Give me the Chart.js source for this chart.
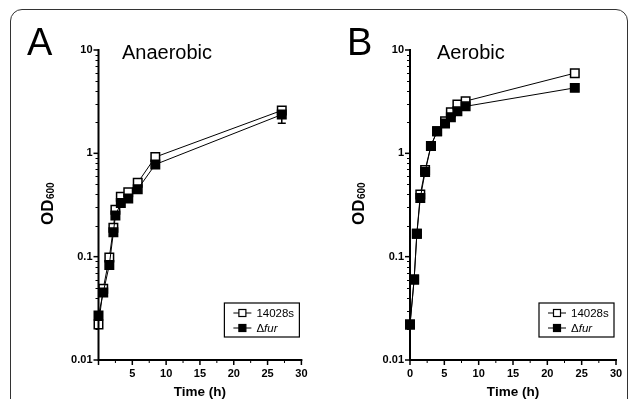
<!DOCTYPE html>
<html>
<head>
<meta charset="utf-8">
<script src="https://cdn.jsdelivr.net/npm/chart.js@4.4.0/dist/chart.umd.min.js"></script>
<style>
  body { margin: 0; width: 630px; height: 399px; overflow: hidden; background: #fff; position: relative; }
  #marco { position: absolute; left: 10px; top: 9px; width: 616px; height: 430px; border: 1.5px solid #333; border-radius: 12px; }
  canvas { position: absolute; top: 0; }
  #graficaA { left: 0; }
  #graficaB { left: 315px; }
</style>
</head>
<body>
<div id="marco"></div>
<canvas id="graficaA" width="315" height="399"></canvas>
<canvas id="graficaB" width="315" height="399"></canvas>
<script>
// datos (OD600 vs tiempo)
const tiempoA = [0, 0.7, 1.6, 2.2, 2.5, 3.3, 4.4, 5.8, 8.4, 27.1];
const wtA = [0.022, 0.049, 0.098, 0.19, 0.285, 0.38, 0.42, 0.52, 0.92, 2.6];
const furA = [0.027, 0.045, 0.083, 0.172, 0.25, 0.33, 0.365, 0.45, 0.78, 2.37];
const furErrA = [0, 0, 0, 0, 0, 0, 0, 0, 0, 0.41];

const tiempoB = [0, 0.6, 1.0, 1.5, 2.2, 3.05, 3.95, 5.1, 5.95, 6.9, 8.1, 24];
const wtB = [0.022, 0.06, 0.167, 0.4, 0.69, 1.18, 1.64, 2.05, 2.5, 2.97, 3.2, 5.97];
const furB = [0.022, 0.06, 0.167, 0.37, 0.66, 1.18, 1.64, 1.94, 2.24, 2.55, 2.85, 4.3];

const nombres = ['14028s', 'fur'];
const yTicks = [0.01, 0.1, 1, 10];
const yTickLabels = ['0.01', '0.1', '1', '10'];
const xTicksA = [5, 10, 15, 20, 25, 30];
const xTicksB = [0, 5, 10, 15, 20, 25, 30];

Chart.defaults.font.family = '"Liberation Sans", Arial, sans-serif';
Chart.defaults.color = '#000';

const FUENTE = '"Liberation Sans", Arial, sans-serif';

// dibuja ejes, marcas, letras, titulo, leyenda y barras de error
const adornos = {
    id: 'adornos',
    beforeDatasetsDraw(chart) {
        const p = chart.options.plugins.adornos;
        const ctx = chart.ctx;
        const x = chart.scales.x, y = chart.scales.y;
        ctx.save();
        ctx.strokeStyle = '#000';
        ctx.lineWidth = 1.5;
        p.err.forEach((e, i) => {
            if (!e) return;
            const px = x.getPixelForValue(p.t[i]);
            const y1 = y.getPixelForValue(p.fur[i] - e);
            const y2 = y.getPixelForValue(p.fur[i] + e);
            ctx.beginPath();
            ctx.moveTo(px, y1); ctx.lineTo(px, y2);
            ctx.moveTo(px - 4, y1); ctx.lineTo(px + 4, y1);
            ctx.moveTo(px - 4, y2); ctx.lineTo(px + 4, y2);
            ctx.stroke();
        });
        ctx.restore();
    },
    afterDraw(chart) {
        const p = chart.options.plugins.adornos;
        const ctx = chart.ctx;
        const ca = chart.chartArea;
        const x = chart.scales.x, y = chart.scales.y;
        ctx.save();
        ctx.strokeStyle = '#000';
        ctx.fillStyle = '#000';

        // marcas menores y mayores del eje y
        ctx.lineWidth = 1;
        [0.01, 0.1, 1].forEach(d => {
            for (let m = 2; m <= 9; m++) {
                const py = Math.round(y.getPixelForValue(d * m)) + 0.5;
                ctx.beginPath(); ctx.moveTo(ca.left, py); ctx.lineTo(ca.left - 3, py); ctx.stroke();
            }
        });
        ctx.lineWidth = 1.5;
        yTicks.forEach(v => {
            const py = y.getPixelForValue(v);
            ctx.beginPath(); ctx.moveTo(ca.left, py); ctx.lineTo(ca.left - 5, py); ctx.stroke();
        });
        // marcas del eje x
        for (let v = 0; v <= 30; v += 2.5) {
            const px = x.getPixelForValue(v);
            const largo = v % 5 === 0 ? 5 : 3;
            ctx.lineWidth = v % 5 === 0 ? 1.5 : 1;
            ctx.beginPath(); ctx.moveTo(px, ca.bottom); ctx.lineTo(px, ca.bottom + largo); ctx.stroke();
        }
        // lineas de los ejes
        ctx.lineWidth = 2;
        ctx.beginPath();
        ctx.moveTo(ca.left, ca.top - 1); ctx.lineTo(ca.left, ca.bottom + 1);
        ctx.moveTo(ca.left - 1, ca.bottom); ctx.lineTo(x.getPixelForValue(30) + 1, ca.bottom);
        ctx.stroke();

        // letra del panel y titulo
        ctx.textBaseline = 'alphabetic';
        ctx.textAlign = 'left';
        ctx.font = '38px ' + FUENTE;
        ctx.fillText(p.letra, p.letraX, 55);
        ctx.font = '20px ' + FUENTE;
        ctx.fillText(p.titulo, p.tituloX, 59);

        // OD600 girado
        ctx.save();
        ctx.translate(p.odX, 225);
        ctx.rotate(-Math.PI / 2);
        ctx.font = 'bold 17px ' + FUENTE;
        ctx.fillText('OD', 0, 0);
        const w = ctx.measureText('OD').width;
        ctx.font = 'bold 10px ' + FUENTE;
        ctx.fillText('600', w + 0.5, 1);
        ctx.restore();

        // leyenda
        const bw = 75, bh = 34;
        const bx = ca.right - 2 - bw, by = ca.bottom - 23 - bh;
        ctx.fillStyle = '#fff';
        ctx.fillRect(bx, by, bw, bh);
        ctx.lineWidth = 1.2;
        ctx.strokeRect(bx, by, bw, bh);
        [0, 1].forEach(i => {
            const cy = by + 10 + i * 15;
            ctx.lineWidth = 1;
            ctx.beginPath(); ctx.moveTo(bx + 9, cy); ctx.lineTo(bx + 27, cy); ctx.stroke();
            ctx.fillStyle = i === 0 ? '#fff' : '#000';
            ctx.fillRect(bx + 14.5, cy - 3.5, 7, 7);
            ctx.lineWidth = 1.2;
            ctx.strokeRect(bx + 14.5, cy - 3.5, 7, 7);
            ctx.fillStyle = '#000';
            ctx.textBaseline = 'middle';
            if (i === 0) {
                ctx.font = '11.5px ' + FUENTE;
                ctx.fillText(nombres[0], bx + 32, cy + 0.5);
            } else {
                ctx.font = '11.5px ' + FUENTE;
                ctx.fillText('\u0394', bx + 32, cy + 0.5);
                const dw = ctx.measureText('\u0394').width;
                ctx.font = 'italic 11.5px ' + FUENTE;
                ctx.fillText(nombres[1], bx + 32 + dw, cy + 0.5);
            }
        });
        ctx.restore();
    }
};

function crearGrafica(id, tiempos, wt, fur, err, xTicks, panel, anchoY, derecha) {
    const ctx = document.getElementById(id).getContext('2d');
    return new Chart(ctx, {
        type: 'line',
        data: {
            datasets: [{
                label: nombres[0],
                data: tiempos.map((t, i) => ({ x: t, y: wt[i] })),
                borderColor: '#000',
                borderWidth: 1,
                pointStyle: 'rect',
                pointRadius: 6,
                pointBackgroundColor: '#fff',
                pointBorderColor: '#000',
                pointBorderWidth: 1.5,
                clip: false,
                order: 1
            }, {
                label: nombres[1],
                data: tiempos.map((t, i) => ({ x: t, y: fur[i] })),
                borderColor: '#000',
                borderWidth: 1,
                pointStyle: 'rect',
                pointRadius: 6,
                pointBackgroundColor: '#000',
                pointBorderColor: '#000',
                pointBorderWidth: 1.5,
                clip: false,
                order: 0
            }]
        },
        options: {
            responsive: false,
            animation: false,
            layout: { padding: { left: 0, top: 50, right: derecha, bottom: 0 } },
            plugins: {
                legend: { display: false },
                tooltip: { enabled: false },
                adornos: Object.assign({ t: tiempos, fur: fur, err: err }, panel)
            },
            scales: {
                x: {
                    type: 'linear',
                    min: 0,
                    max: 30,
                    afterBuildTicks: s => { s.ticks = xTicks.map(v => ({ value: v })); },
                    afterFit: s => { s.height = 39; },
                    grid: { display: true, drawOnChartArea: false, drawTicks: false, color: 'rgba(0,0,0,0)' },
                    border: { display: false },
                    ticks: { padding: 7.5, maxRotation: 0, font: { size: 11, weight: 'bold' }, callback: v => String(v) },
                    title: { display: true, text: 'Time (h)', padding: 0, font: { size: 13.5, weight: 'bold', lineHeight: 1.05 } }
                },
                y: {
                    type: 'logarithmic',
                    min: 0.01,
                    max: 10,
                    afterBuildTicks: s => { s.ticks = yTicks.map(v => ({ value: v })); },
                    afterFit: s => { s.width = anchoY; },
                    grid: { display: true, drawOnChartArea: false, drawTicks: false, color: 'rgba(0,0,0,0)' },
                    border: { display: false },
                    ticks: {
                        padding: 6,
                        font: { size: 11, weight: 'bold' },
                        callback: v => yTickLabels[yTicks.indexOf(v)]
                    }
                }
            }
        },
        plugins: [adornos]
    });
}

crearGrafica('graficaA', tiempoA, wtA, furA, furErrA, xTicksA,
    { letra: 'A', letraX: 27, titulo: 'Anaerobic', tituloX: 122, odX: 53 }, 98.5, 9);
crearGrafica('graficaB', tiempoB, wtB, furB, tiempoB.map(() => 0), xTicksB,
    { letra: 'B', letraX: 32, titulo: 'Aerobic', tituloX: 122, odX: 48.5 }, 95, 14);
</script>
</body>
</html>
